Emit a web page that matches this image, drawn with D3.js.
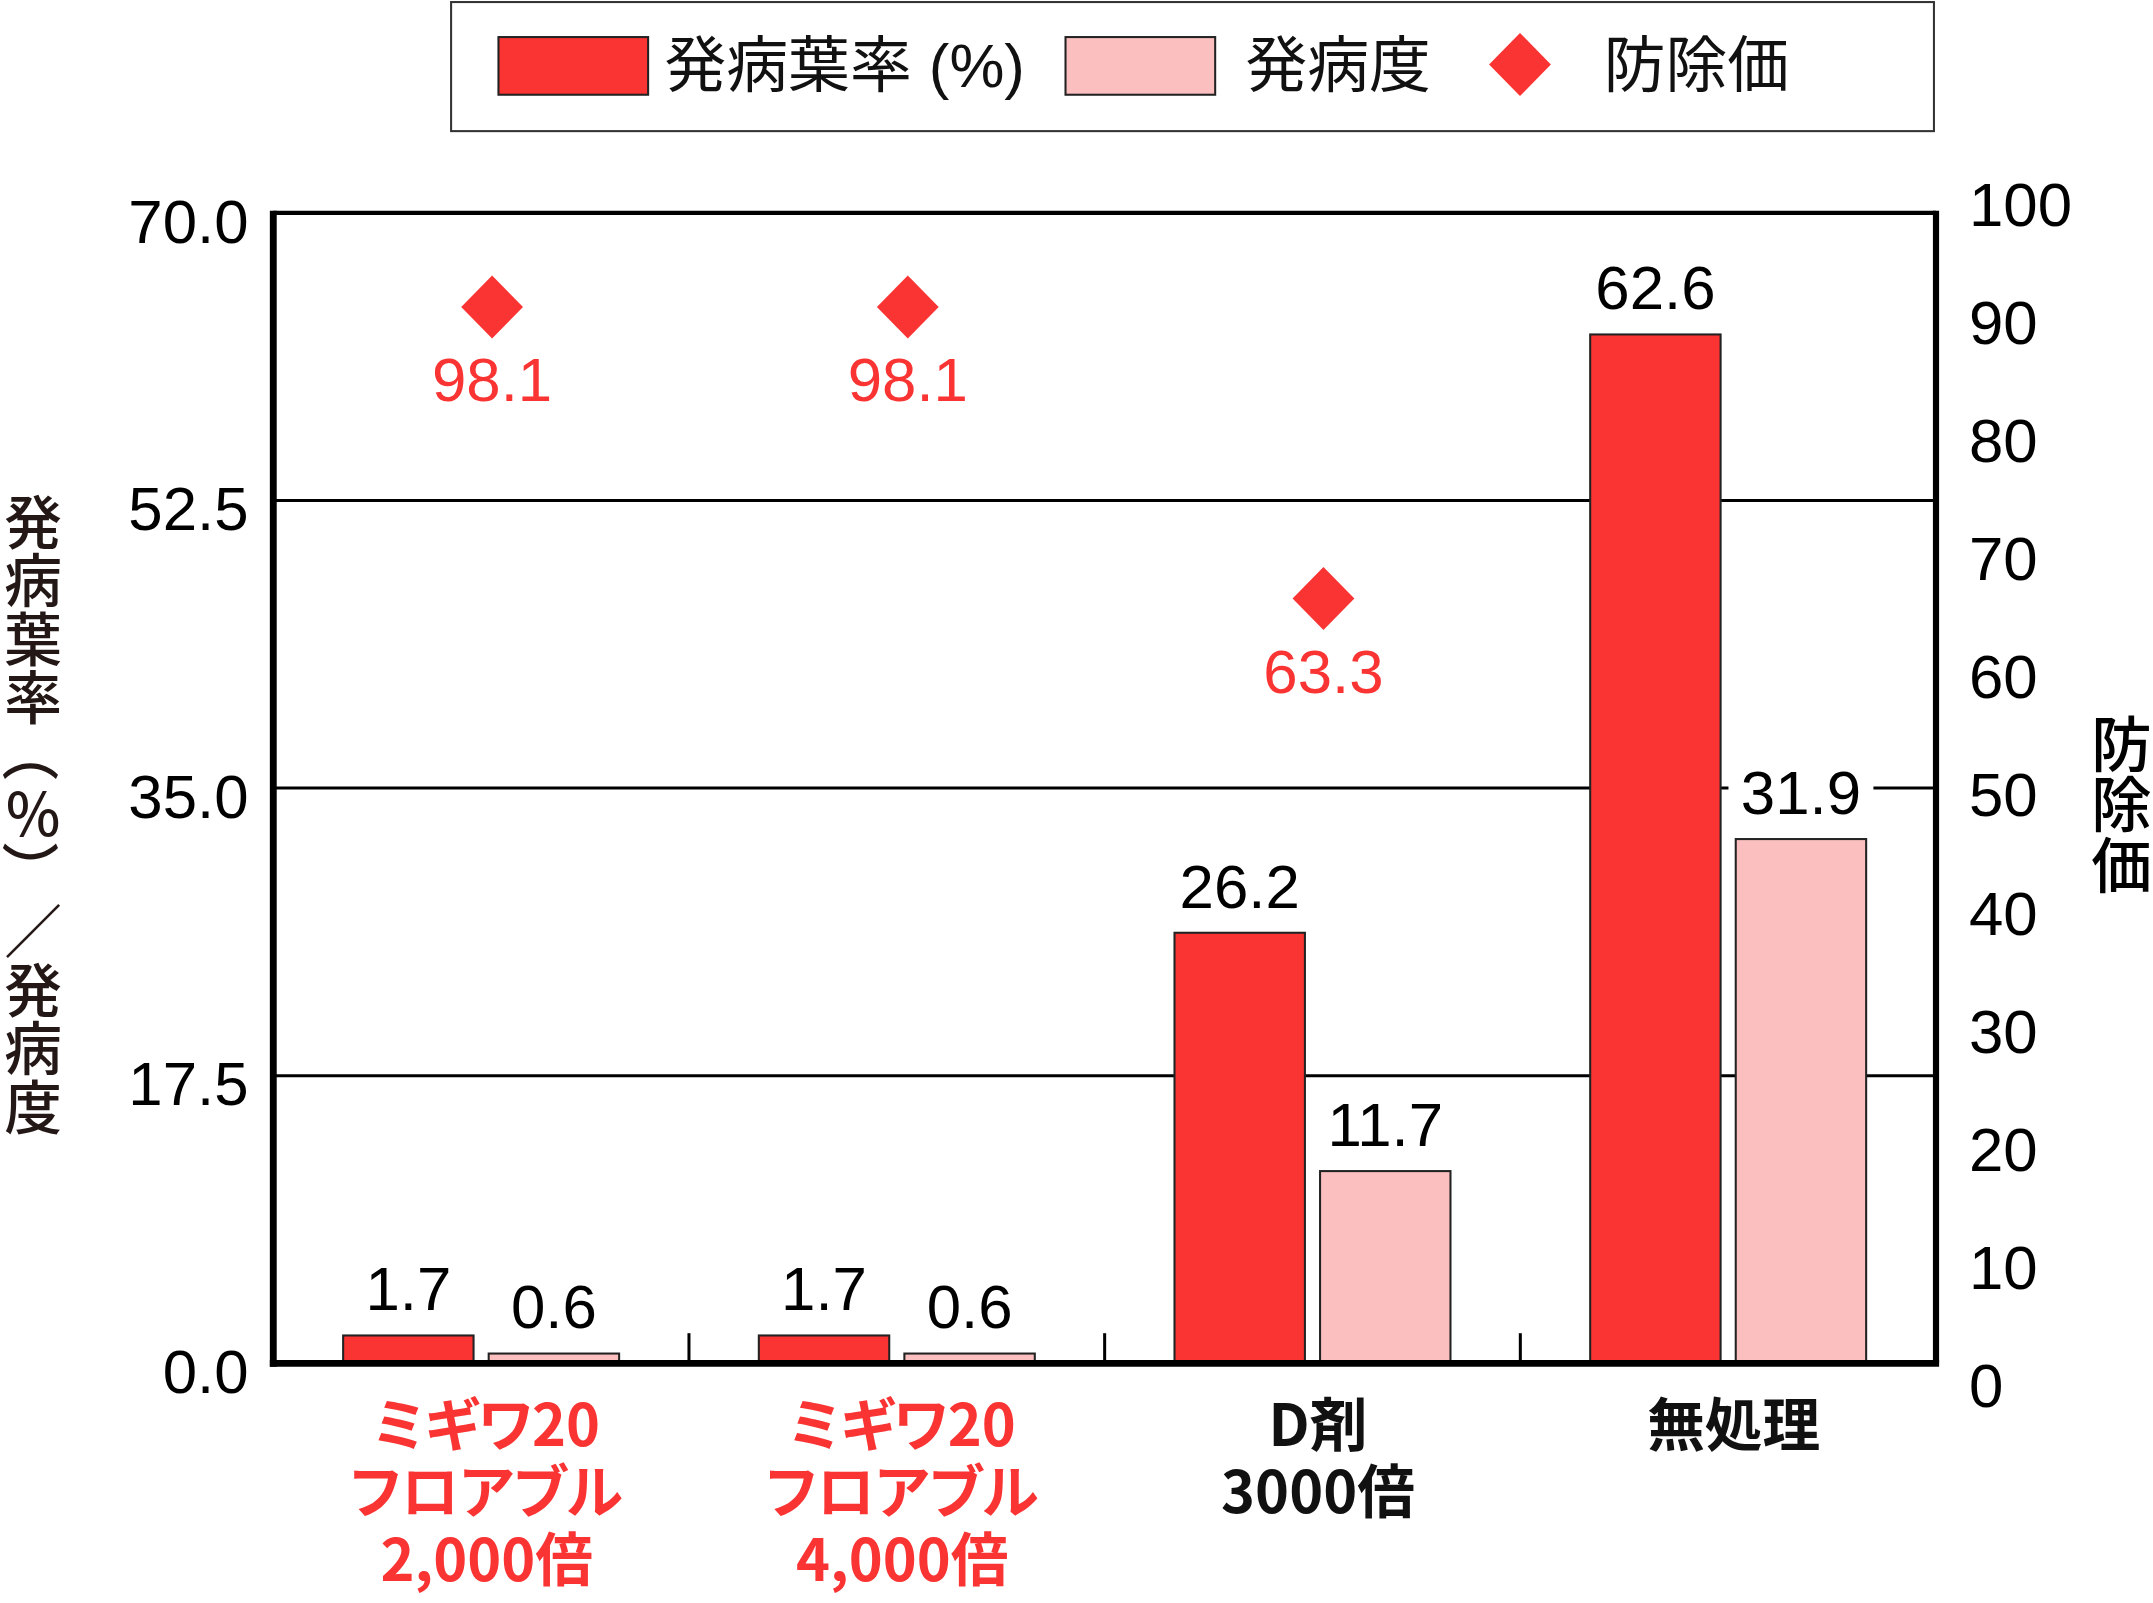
<!DOCTYPE html>
<html>
<head>
<meta charset="utf-8">
<script src="https://cdn.jsdelivr.net/npm/d3@7"></script>
<style>
  html, body { margin: 0; padding: 0; background: #fff; }
  svg { display: block; }
</style>
</head>
<body>
<div id="chart"></div>
<script>
// Chart data
const categories = [
    ["ミギワ20", "フロアブル", "2,000倍"],
    ["ミギワ20", "フロアブル", "4,000倍"],
    ["D剤", "3000倍"],
    ["無処理"]
];
const incidence = [1.7, 1.7, 26.2, 62.6];      // 発病葉率 (%)
const severity = [0.6, 0.6, 11.7, 31.9];       // 発病度
const controlValue = [98.1, 98.1, 63.3, null]; // 防除価
const leftTicks = [0, 17.5, 35, 52.5, 70];
const rightTicks = [0, 10, 20, 30, 40, 50, 60, 70, 80, 90, 100];
const seriesNames = ["発病葉率 (%)", "発病度", "防除価"];
const leftTitle = "発病葉率（％）／発病度";
const rightTitle = "防除価";

const RED = '#fa3333';
const PINK = '#fcbfbf';
const NUM_FONT = '"Liberation Sans", Arial, sans-serif';
const JP_FONT = '"Noto Sans CJK JP", "Noto Sans", sans-serif';
const MIX_FONT = '"Liberation Sans", "Noto Sans CJK JP", sans-serif';

// drawing coordinates (scaled to the window through the viewBox)
const W = 1568, H = 1167.5;
const plot = { left: 199, right: 1410, top: 155, bottom: 993 };

const svg = d3.select('#chart')
    .append('svg')
    .attr('width', 2153)
    .attr('height', 1603)
    .attr('viewBox', `0 0 ${W} ${H}`);

// Scales
const x = d3.scaleBand()
    .domain(d3.range(categories.length))
    .range([plot.left, plot.right]);

const x1 = d3.scaleBand()
    .domain(['incidence', 'severity'])
    .range([-100.5, 100.5])
    .paddingInner(0.104);

const y = d3.scaleLinear().domain([0, 70]).range([plot.bottom, plot.top]);
// right axis labels
const yR = d3.scaleLinear().domain([0, 100]).range([1009, 149]);
// vertical placement of the 防除価 markers
const yMark = d3.scaleLinear().domain([0, 100]).range([822, 212]);

const cx = i => x(i) + x.bandwidth() / 2;

// Gridlines
svg.append('g')
    .selectAll('line')
    .data(leftTicks.filter(t => t > 0 && t < 70))
    .enter()
    .append('line')
    .attr('x1', plot.left)
    .attr('x2', plot.right)
    .attr('y1', d => y(d))
    .attr('y2', d => y(d))
    .attr('stroke', '#000')
    .attr('stroke-width', 2.2);

// Bars
const barData = [];
categories.forEach((c, i) => {
    barData.push({ i, key: 'incidence', value: incidence[i] });
    barData.push({ i, key: 'severity', value: severity[i] });
});

svg.append('g')
    .selectAll('rect')
    .data(barData)
    .enter()
    .append('rect')
    .attr('x', d => cx(d.i) + x1(d.key))
    .attr('y', d => y(d.value))
    .attr('width', x1.bandwidth())
    .attr('height', d => y(0) - y(d.value))
    .attr('fill', d => d.key === 'incidence' ? RED : PINK)
    .attr('stroke', '#222')
    .attr('stroke-width', 1.5);

// Value labels with white backing
const valLabels = svg.append('g')
    .selectAll('g')
    .data(barData)
    .enter()
    .append('g')
    .attr('transform', d => `translate(${cx(d.i) + x1(d.key) + x1.bandwidth() / 2},${y(d.value) - 34})`);

valLabels.append('rect').attr('fill', '#fff');
valLabels.append('text')
    .attr('text-anchor', 'middle')
    .attr('dominant-baseline', 'central')
    .style('font-family', NUM_FONT)
    .style('font-size', '45px')
    .attr('fill', '#000')
    .text(d => d.value.toFixed(1));

valLabels.each(function() {
    const g = d3.select(this);
    const b = g.select('text').node().getBBox();
    g.select('rect')
        .attr('x', b.x - 9)
        .attr('y', b.y + 4)
        .attr('width', b.width + 18)
        .attr('height', b.height - 8);
});

// 防除価 markers
const diamond = (w, h) => `M0,${-h}L${w},0L0,${h}L${-w},0Z`;
const marks = controlValue
    .map((v, i) => ({ i, v }))
    .filter(d => d.v !== null);

const markG = svg.append('g')
    .selectAll('g')
    .data(marks)
    .enter()
    .append('g')
    .attr('transform', d => `translate(${cx(d.i) + 8},${yMark(d.v)})`);

markG.append('path')
    .attr('d', diamond(22.5, 23))
    .attr('fill', RED);

markG.append('text')
    .attr('y', 53)
    .attr('text-anchor', 'middle')
    .attr('dominant-baseline', 'central')
    .style('font-family', NUM_FONT)
    .style('font-size', '45px')
    .attr('fill', RED)
    .text(d => d.v.toFixed(1));

// Category separators on the baseline
svg.append('g')
    .selectAll('line')
    .data(d3.range(1, categories.length))
    .enter()
    .append('line')
    .attr('x1', d => x(d))
    .attr('x2', d => x(d))
    .attr('y1', plot.bottom - 22)
    .attr('y2', plot.bottom)
    .attr('stroke', '#000')
    .attr('stroke-width', 2.2);

// Frame
svg.append('line')
    .attr('x1', plot.left).attr('x2', plot.right)
    .attr('y1', plot.top).attr('y2', plot.top)
    .attr('stroke', '#000').attr('stroke-width', 3);
svg.append('line')
    .attr('x1', plot.right).attr('x2', plot.right)
    .attr('y1', plot.top - 1.5).attr('y2', plot.bottom)
    .attr('stroke', '#000').attr('stroke-width', 4.5);
svg.append('line')
    .attr('x1', plot.left).attr('x2', plot.left)
    .attr('y1', plot.top - 1.5).attr('y2', plot.bottom + 2.5)
    .attr('stroke', '#000').attr('stroke-width', 5);
svg.append('line')
    .attr('x1', plot.left - 2.5).attr('x2', plot.right + 2.25)
    .attr('y1', plot.bottom).attr('y2', plot.bottom)
    .attr('stroke', '#000').attr('stroke-width', 5);

// Left tick labels
svg.append('g')
    .selectAll('text')
    .data(leftTicks)
    .enter()
    .append('text')
    .attr('x', 181)
    .attr('y', d => y(d) + 6)
    .attr('text-anchor', 'end')
    .attr('dominant-baseline', 'central')
    .style('font-family', NUM_FONT)
    .style('font-size', '45px')
    .text(d => d.toFixed(1));

// Right tick labels
svg.append('g')
    .selectAll('text')
    .data(rightTicks)
    .enter()
    .append('text')
    .attr('x', 1434)
    .attr('y', d => yR(d))
    .attr('dominant-baseline', 'central')
    .style('font-family', NUM_FONT)
    .style('font-size', '45px')
    .text(d => d);

// Category labels
const catText = svg.append('g')
    .selectAll('text')
    .data(categories)
    .enter()
    .append('text')
    .attr('text-anchor', 'middle')
    .style('font-family', JP_FONT)
    .style('font-weight', 'bold')
    .style('font-size', '42px')
    .style('font-feature-settings', '"palt"')
    .attr('fill', (d, i) => i < 2 ? RED : '#111');

catText.selectAll('tspan')
    .data((d, i) => d.map(line => ({ line, i })))
    .enter()
    .append('tspan')
    .attr('x', d => cx(d.i) + 4)
    .attr('y', (d, k) => 1035 + k * 49)
    .attr('dominant-baseline', 'central')
    .text(d => d.line);

// Axis titles, upright characters stacked vertically
const isParen = ch => ch === '（' || ch === '）';
const leftChars = leftTitle.split('').map((ch, k) => ({ ch, k }));
const titleY = k => 378 + k * 42.6;

const leftTitleText = svg.append('text')
    .attr('text-anchor', 'middle')
    .style('font-family', JP_FONT)
    .style('font-weight', 500)
    .style('font-size', '42px')
    .attr('fill', '#231815');

leftTitleText.selectAll('tspan')
    .data(leftChars.filter(d => !isParen(d.ch)))
    .enter()
    .append('tspan')
    .attr('x', 24)
    .attr('y', d => titleY(d.k))
    .attr('dominant-baseline', 'central')
    .text(d => d.ch);

// brackets are turned a quarter so they open along the column
svg.append('g')
    .selectAll('text')
    .data(leftChars.filter(d => isParen(d.ch)))
    .enter()
    .append('text')
    .attr('x', 24)
    .attr('y', d => titleY(d.k))
    .attr('text-anchor', 'middle')
    .attr('dominant-baseline', 'central')
    .attr('transform', d => `rotate(90,24,${titleY(d.k)})`)
    .style('font-family', JP_FONT)
    .style('font-weight', 500)
    .style('font-size', '42px')
    .attr('fill', '#231815')
    .text(d => d.ch);

const rightTitleText = svg.append('text')
    .attr('text-anchor', 'middle')
    .style('font-family', JP_FONT)
    .style('font-weight', 500)
    .style('font-size', '44px')
    .attr('fill', '#000');

rightTitleText.selectAll('tspan')
    .data(rightTitle.split(''))
    .enter()
    .append('tspan')
    .attr('x', 1545)
    .attr('y', (d, k) => 539 + k * 44.3)
    .attr('dominant-baseline', 'central')
    .text(d => d);

// Legend
const legend = svg.append('g');
legend.append('rect')
    .attr('x', 328.5).attr('y', 1.5)
    .attr('width', 1080).attr('height', 94)
    .attr('fill', '#fff')
    .attr('stroke', '#333')
    .attr('stroke-width', 1.5);

const legendItems = [
    { name: seriesNames[0], type: 'rect', fill: RED, sx: 363, tx: 484 },
    { name: seriesNames[1], type: 'rect', fill: PINK, sx: 776, tx: 907 },
    { name: seriesNames[2], type: 'diamond', fill: RED, sx: 1085, tx: 1168 }
];

legendItems.forEach(item => {
    if (item.type === 'rect') {
        legend.append('rect')
            .attr('x', item.sx).attr('y', 27)
            .attr('width', 109).attr('height', 42)
            .attr('fill', item.fill)
            .attr('stroke', '#222')
            .attr('stroke-width', 1.5);
    } else {
        legend.append('path')
            .attr('transform', `translate(${item.sx + 22},47)`)
            .attr('d', diamond(22.5, 23))
            .attr('fill', item.fill);
    }
    legend.append('text')
        .attr('x', item.tx)
        .attr('y', 48)
        .attr('dominant-baseline', 'central')
        .style('font-family', MIX_FONT)
        .style('font-size', '45px')
        .attr('fill', '#111')
        .text(item.name);
});
</script>
</body>
</html>
